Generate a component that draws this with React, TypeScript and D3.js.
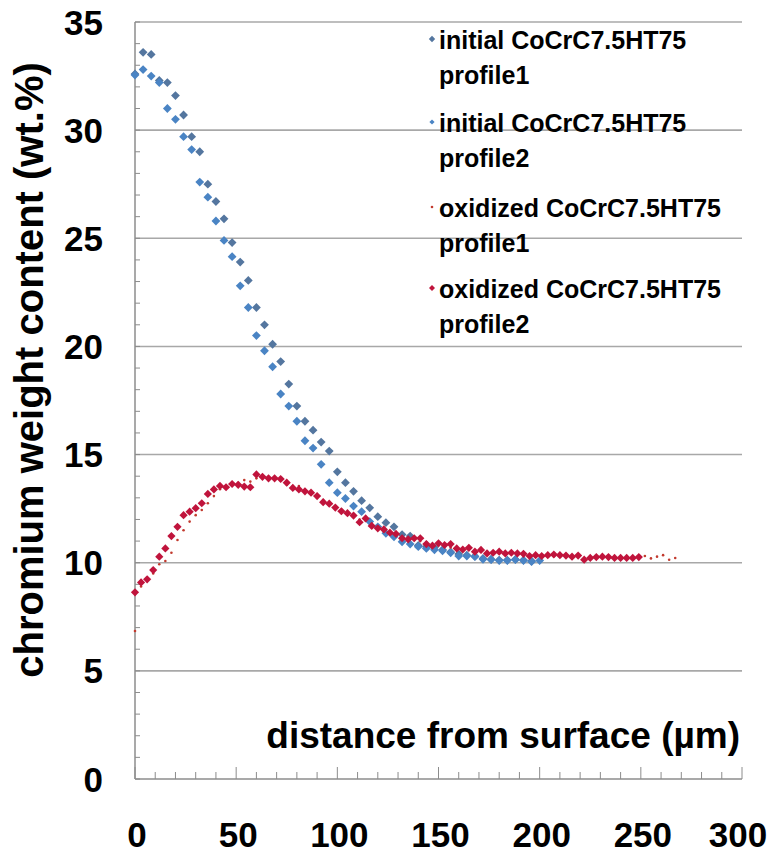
import React from "react";
import * as d3 from "d3";

// ---- data ----
const initialX = [0,4,8,12,16,20,24,28,32,36,40,44,48,52,56,60,64,68,72,76,80,84,88,92,96,100,104,108,112,116,120,124,128,132,136,140,144,148,152,156,160,164,168,172,176,180,184,188,192,196];
const initialP1 = [32.6,33.6,33.5,32.3,32.2,31.6,30.7,29.7,29.0,27.5,26.7,25.9,24.8,23.9,23.05,21.8,21.0,20.1,19.3,18.26,17.24,16.54,16.13,15.58,15.16,14.2,13.7,13.3,12.87,12.54,12.13,11.85,11.66,11.3,11.23,10.8,10.74,10.7,10.6,10.5,10.4,10.35,10.3,10.2,10.16,10.12,10.12,10.15,10.12,10.08];
const initialX2 = [0,4,8,12,16,20,24,28,32,36,40,44,48,52,56,60,64,68,72,76,80,84,88,92,96,100,104,108,112,116,120,124,128,132,136,140,144,148,152,156,160,164,168,172,176,180,184,188,192,196,200];
const initialP2 = [32.55,32.8,32.5,32.2,31.0,30.5,29.7,29.1,27.6,26.9,25.8,24.9,24.15,22.8,21.8,20.5,19.8,19.06,17.8,17.24,16.54,15.64,15.3,14.55,13.7,13.24,12.97,12.62,12.36,11.9,11.66,11.36,11.2,10.97,10.86,10.74,10.66,10.6,10.55,10.46,10.31,10.31,10.28,10.16,10.14,10.1,10.1,10.14,10.1,10.05,10.1];

const oxidizedX1 = [0,3,6,9,12,15,18,21,24,27,30,33,36,39,42,45,48,51,54,57,60,63,66,69,72,75,78,81,84,87,90,93,96,99,102,105,108,111,114,117,120,123,126,129,132,135,138,141,144,147,150,153,156,159,162,165,168,171,174,177,180,183,186,189,192,195,198,201,204,207,210,213,216,219,222,225,228,231,234,237,240,243,246,249,252,255,258,261,264,267];
const oxidizedP1 = [6.84,8.9,9.2,9.5,9.93,10.08,10.46,11.05,11.5,11.9,12.2,12.44,12.75,13.08,13.4,13.55,13.6,13.7,13.82,13.75,13.9,14.0,13.85,13.95,13.8,13.6,13.55,13.55,13.3,13.2,13.1,12.9,12.7,12.6,12.45,12.3,12.2,12.0,11.95,11.8,11.65,11.5,11.45,11.3,11.2,11.15,11.05,11.0,10.95,10.85,10.8,10.75,10.7,10.7,10.65,10.6,10.55,10.5,10.5,10.45,10.45,10.4,10.4,10.38,10.35,10.35,10.3,10.32,10.3,10.3,10.28,10.3,10.25,10.28,10.2,10.25,10.22,10.25,10.2,10.25,10.2,10.22,10.25,10.2,10.31,10.2,10.28,10.35,10.14,10.22];
const oxidizedX2 = [0,3,6,9,12,15,18,21,24,27,30,33,36,39,42,45,48,51,54,57,60,63,66,69,72,75,78,81,84,87,90,93,96,99,102,105,108,111,114,117,120,123,126,129,132,135,138,141,144,147,150,153,156,159,162,165,168,171,174,177,180,183,186,189,192,195,198,201,204,207,210,213,216,219,222,225,228,231,234,237,240,243,246,249];
const oxidizedP2 = [8.63,9.09,9.23,9.66,10.28,10.66,11.23,11.66,12.2,12.36,12.52,12.75,13.18,13.39,13.55,13.49,13.64,13.6,13.52,13.49,14.08,13.97,13.9,13.9,13.87,13.7,13.46,13.39,13.3,13.24,13.08,12.8,12.73,12.55,12.38,12.29,12.18,11.87,12.05,11.7,11.59,11.54,11.39,11.33,11.13,11.08,11.13,11.13,10.86,10.79,10.9,10.82,10.86,10.66,10.61,10.69,10.51,10.59,10.43,10.46,10.51,10.43,10.46,10.43,10.41,10.31,10.35,10.31,10.35,10.38,10.35,10.33,10.28,10.33,10.14,10.22,10.26,10.28,10.26,10.22,10.22,10.22,10.22,10.26];

const seriesNames = [
  ["initial CoCrC7.5HT75", "profile1"],
  ["initial CoCrC7.5HT75", "profile2"],
  ["oxidized CoCrC7.5HT75", "profile1"],
  ["oxidized CoCrC7.5HT75", "profile2"],
];
const yTicks = [0, 5, 10, 15, 20, 25, 30, 35];
const xTicks = [0, 50, 100, 150, 200, 250, 300];
const xTitle = "distance from surface (µm)";
const yTitle = "chromium weight content (wt.%)";

const W = 771, H = 854;
const FONT = "'Liberation Sans', Arial, sans-serif";

const x = d3.scaleLinear().domain([0, 300]).range([135, 742]);
const y = d3.scaleLinear().domain([0, 35]).range([779, 22]);

const diamond = (r: number) => `M0,${-r}L${r},0L0,${r}L${-r},0Z`;

const series = [
  { xs: initialX, ys: initialP1, color: "#54769f", r: 4.4, dot: false, legR: 3.2 },
  { xs: initialX2, ys: initialP2, color: "#4a84c4", r: 4.4, dot: false, legR: 2.6 },
  { xs: oxidizedX1, ys: oxidizedP1, color: "#c23a2e", r: 1.3, dot: true, legR: 1.3 },
  { xs: oxidizedX2, ys: oxidizedP2, color: "#c0143c", r: 4.1, dot: false, legR: 3.0 },
];

export default function App() {
  const xMinor = d3.range(0, 301, 10);
  const yMinor = d3.range(0, 36, 1);
  const legendBase = [49, 132, 217, 298];
  return (
    <svg width={W} height={H} style={{ position: "absolute", left: 0, top: 0, background: "#fff" }} fontFamily={FONT}>
      <rect width={W} height={H} fill="#fff" />
      {/* gridlines */}
      {yTicks.filter((t) => t > 0).map((t) => (
        <line key={"g" + t} x1={x(0)} x2={x(300)} y1={y(t)} y2={y(t)} stroke="#a8a8a8" strokeWidth={1.6} />
      ))}
      {/* axes */}
      <line x1={x(0)} x2={x(0)} y1={y(0)} y2={y(35)} stroke="#8c8c8c" strokeWidth={1.5} />
      <line x1={x(0)} x2={x(300)} y1={y(0)} y2={y(0)} stroke="#8c8c8c" strokeWidth={1.5} />
      {yMinor.map((t) => (
        <line key={"ym" + t} x1={x(0)} x2={x(0) + 5} y1={y(t)} y2={y(t)} stroke="#8c8c8c" strokeWidth={1} />
      ))}
      {xMinor.map((t) => (
        <line key={"xm" + t} x1={x(t)} x2={x(t)} y1={y(0)} y2={y(0) - (t % 50 === 0 ? 12 : 7)} stroke="#8c8c8c" strokeWidth={1} />
      ))}
      {/* tick labels */}
      {yTicks.map((t) => (
        <text key={"yl" + t} x={103} y={y(t) + 12.5} textAnchor="end" fontSize={35} fontWeight="bold" fill="#000">{t}</text>
      ))}
      {xTicks.map((t) => (
        <text key={"xl" + t} x={Math.min(x(t) + 2, 738)} y={847} textAnchor="middle" fontSize={35} fontWeight="bold" fill="#000">{t}</text>
      ))}
      {/* titles */}
      <text x={740} y={748} textAnchor="end" fontSize={37} fontWeight="bold" fill="#000">{xTitle}</text>
      <text transform="translate(43,370) rotate(-90)" textAnchor="middle" fontSize={40} fontWeight="bold" fill="#000">{yTitle}</text>
      {/* data */}
      {series.map((s, i) => (
        <g key={"s" + i} fill={s.color}>
          {s.xs.map((xv, j) =>
            s.dot ? (
              <circle key={j} cx={x(xv)} cy={y(s.ys[j])} r={s.r} />
            ) : (
              <path key={j} transform={`translate(${x(xv)},${y(s.ys[j])})`} d={diamond(s.r)} />
            )
          )}
        </g>
      ))}
      {/* legend */}
      {series.map((s, i) => (
        <g key={"l" + i}>
          {s.dot ? (
            <circle cx={432} cy={legendBase[i] - 10} r={s.legR} fill={s.color} />
          ) : (
            <path transform={`translate(432,${legendBase[i] - 10})`} d={diamond(s.legR)} fill={s.color} />
          )}
          <text x={439} y={legendBase[i]} fontSize={25} fontWeight="bold" fill="#000">{seriesNames[i][0]}</text>
          <text x={439} y={legendBase[i] + 35} fontSize={25} fontWeight="bold" fill="#000">{seriesNames[i][1]}</text>
        </g>
      ))}
    </svg>
  );
}
